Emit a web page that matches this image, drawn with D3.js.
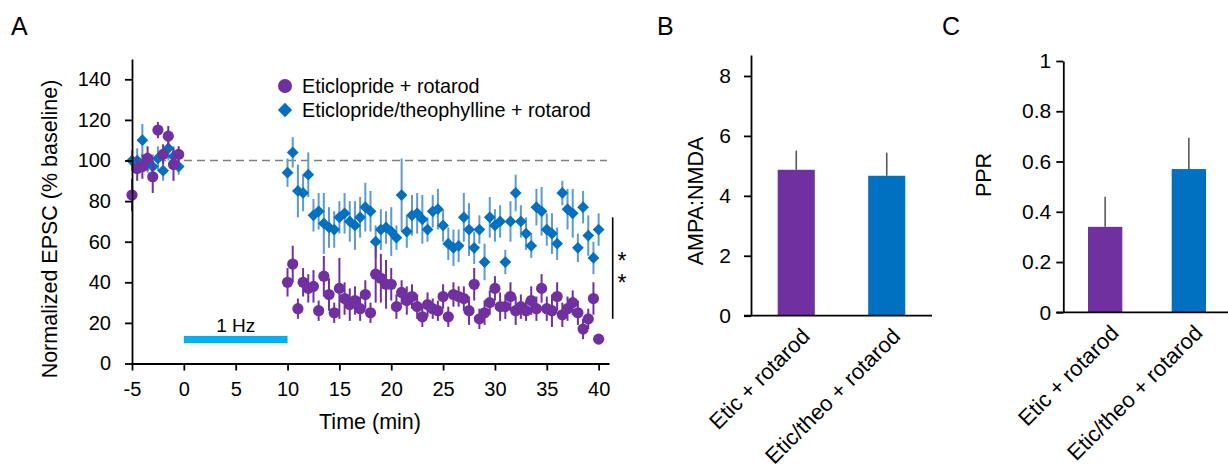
<!DOCTYPE html>
<html>
<head>
<meta charset="utf-8">
<script src="https://cdn.jsdelivr.net/npm/d3@7"></script>
<style>
  body { margin: 0; background: #fff; }
  svg { display: block; }
  text { font-family: "Liberation Sans", Arial, Helvetica, sans-serif; fill: #000; }
</style>
</head>
<body>
<svg id="fig" width="1228" height="470"></svg>
<script>
// ---- Panel A: normalized EPSC time course ----
const minutes = [-5, -4.5, -4, -3.5, -3, -2.5, -2, -1.5, -1, -0.5,
  10, 10.5, 11, 11.5, 12, 12.5, 13, 13.5, 14, 14.5, 15, 15.5, 16, 16.5, 17, 17.5,
  18, 18.5, 19, 19.5, 20, 20.5, 21, 21.5, 22, 22.5, 23, 23.5, 24, 24.5, 25, 25.5,
  26, 26.5, 27, 27.5, 28, 28.5, 29, 29.5, 30, 30.5, 31, 31.5, 32, 32.5, 33, 33.5,
  34, 34.5, 35, 35.5, 36, 36.5, 37, 37.5, 38, 38.5, 39, 39.5, 40];

const eticMean = [83, 96, 97, 101, 92, 115, 103, 112, 98, 103,
  40, 49, 27, 40, 37, 38, 26, 43, 34, 25,
  37, 32, 29, 31, 27, 34, 25, 44, 42, 39,
  39, 28, 35, 31, 33, 28, 23, 29, 27, 26,
  33, 23, 34, 33, 32, 26, 39, 22, 25, 30,
  37, 28, 28, 33, 26, 28, 26, 31, 27, 37,
  27, 26, 33, 24, 27, 30, 25, 17, 22, 32,
  12];
const eticSem = [8, 6, 6, 6, 8, 4, 5, 5, 8, 4,
  7, 9, 5, 7, 7, 8, 5, 10, 8, 5,
  15, 8, 8, 7, 6, 7, 5, 14, 12, 12,
  8, 6, 6, 7, 6, 6, 5, 6, 5, 5,
  6, 5, 6, 5, 6, 7, 8, 5, 6, 6,
  6, 7, 6, 7, 7, 6, 5, 7, 6, 7,
  6, 8, 7, 6, 6, 6, 6, 5, 5, 8,
  2];

const theoMean = [100, 100, 110, 99, 97, 101, 95, 106, 102, 97,
  94, 104, 85, 84, 93, 73, 75, 69, 67, 66,
  72, 74, 70, 68, 72, 77, 75, 60, 66, 67,
  65, 62, 83, 65, 73, 74, 71, 66, 75, 76,
  68, 59, 57, 58, 72, 66, 57, 66, 50, 72,
  68, 70, 50, 70, 84, 70, 64, 58, 77, 75,
  66, 64, 59, 84, 76, 74, 57, 77, 63, 52,
  66];
const theoSem = [5, 6, 8, 5, 6, 6, 5, 6, 5, 4,
  7, 7.5, 13, 9, 11, 8, 9, 15, 10, 9,
  8, 10, 10, 12, 10, 12, 10, 8, 10, 8,
  12, 6, 18, 8, 10, 10, 12, 6, 8, 10,
  8, 8, 9, 8, 12, 13, 8, 7, 9, 10,
  8, 8, 6, 10, 9, 8, 8, 6, 9, 12,
  8, 10, 8, 6, 10, 12, 7, 8, 10, 8,
  8];

const timeTicks = [-5, 0, 5, 10, 15, 20, 25, 30, 35, 40];
const epscTicks = [0, 20, 40, 60, 80, 100, 120, 140];
const seriesNames = ["Eticlopride + rotarod", "Eticlopride/theophylline + rotarod"];
const stimWindow = [0, 10];
const stimLabel = "1 Hz";
const sigRange = [22, 72];
const sigMark = "**";

// ---- Panels B and C: bar summaries ----
const groups = ["Etic + rotarod", "Etic/theo + rotarod"];
const ampaNmda = [4.87, 4.67];
const ampaNmdaSem = [0.64, 0.77];
const ampaTicks = [0, 2, 4, 6, 8];
const ppr = [0.34, 0.57];
const pprSem = [0.12, 0.125];
const pprTicks = [0, 0.2, 0.4, 0.6, 0.8, 1];

const PURPLE = "#7030a0";
const BLUE = "#0070c0";
const BLUE_ERR = "#5b9bd5";
const CYAN = "#00b0f0";

const svg = d3.select("#fig");
svg.append("rect").attr("width", 1228).attr("height", 470).attr("fill", "#fff");

// plain hyphen for negatives
const plainFmt = d => String(d);

function styleAxis(g, fontSize) {
  g.selectAll("path, line").attr("stroke", "#000").attr("stroke-width", 1.8);
  g.selectAll("text").attr("font-size", fontSize).attr("fill", "#000")
    .attr("font-family", '"Liberation Sans", Arial, sans-serif');
}

// Panel letters
[["A", 11], ["B", 657], ["C", 942]].forEach(([t, x]) => {
  svg.append("text").attr("x", x).attr("y", 35).attr("font-size", 25).text(t);
});

// ===== Panel A =====
const xA = d3.scaleLinear().domain([-5, 41]).range([132, 609]);
const yA = d3.scaleLinear().domain([0, 150]).range([363.5, 59]);
const gA = svg.append("g");

// 100% reference line
gA.append("line")
  .attr("x1", xA(-5)).attr("x2", xA(40.8))
  .attr("y1", yA(100)).attr("y2", yA(100))
  .attr("stroke", "#808080").attr("stroke-width", 1.6)
  .attr("stroke-dasharray", "8,5");

// stimulation bar
gA.append("rect")
  .attr("x", xA(stimWindow[0])).attr("width", xA(stimWindow[1]) - xA(stimWindow[0]))
  .attr("y", yA(13.6)).attr("height", yA(10) - yA(13.6))
  .attr("fill", CYAN);
gA.append("text")
  .attr("x", (xA(stimWindow[0]) + xA(stimWindow[1])) / 2).attr("y", 332)
  .attr("text-anchor", "middle").attr("font-size", 19).text(stimLabel);

const theoPts = minutes.map((t, i) => ({ t, m: theoMean[i], e: theoSem[i] }));
const eticPts = minutes.map((t, i) => ({ t, m: eticMean[i], e: eticSem[i] }));

// theophylline series
gA.append("g").selectAll("line").data(theoPts).join("line")
  .attr("x1", d => xA(d.t)).attr("x2", d => xA(d.t))
  .attr("y1", d => yA(d.m - d.e)).attr("y2", d => yA(d.m + d.e))
  .attr("stroke", BLUE_ERR).attr("stroke-width", 2);
const diamond = d3.symbol().type(d3.symbolDiamond2).size(88);
gA.append("g").selectAll("path").data(theoPts).join("path")
  .attr("d", diamond)
  .attr("transform", d => `translate(${xA(d.t)},${yA(d.m)})`)
  .attr("fill", BLUE);

// eticlopride series
gA.append("g").selectAll("line").data(eticPts).join("line")
  .attr("x1", d => xA(d.t)).attr("x2", d => xA(d.t))
  .attr("y1", d => yA(d.m - d.e)).attr("y2", d => yA(d.m + d.e))
  .attr("stroke", PURPLE).attr("stroke-width", 2);
gA.append("g").selectAll("circle").data(eticPts).join("circle")
  .attr("cx", d => xA(d.t)).attr("cy", d => yA(d.m)).attr("r", 5.6)
  .attr("fill", PURPLE);

// axes
const axAx = gA.append("g").attr("transform", `translate(0,${yA(0)})`)
  .call(d3.axisBottom(xA).tickValues(timeTicks).tickFormat(plainFmt)
    .tickSize(7).tickSizeOuter(0).tickPadding(11));
styleAxis(axAx, 20);
const ayAx = gA.append("g").attr("transform", `translate(${xA(-5)},0)`)
  .call(d3.axisLeft(yA).tickValues(epscTicks).tickFormat(plainFmt)
    .tickSize(7).tickSizeOuter(0).tickPadding(14));
styleAxis(ayAx, 20);

gA.append("text").attr("x", 370).attr("y", 429).attr("text-anchor", "middle")
  .attr("font-size", 21.5).text("Time (min)");
gA.append("text").attr("transform", "translate(57,229) rotate(-90)")
  .attr("text-anchor", "middle").attr("font-size", 21.5).text("Normalized EPSC (% baseline)");

// legend
const leg = gA.append("g");
leg.append("circle").attr("cx", 285).attr("cy", 86).attr("r", 7).attr("fill", PURPLE);
leg.append("path").attr("d", d3.symbol().type(d3.symbolDiamond2).size(130))
  .attr("transform", "translate(285,110)").attr("fill", BLUE);
leg.append("text").attr("x", 302).attr("y", 93).attr("font-size", 19.8).text(seriesNames[0]);
leg.append("text").attr("x", 302).attr("y", 117).attr("font-size", 19.8).text(seriesNames[1]);

// significance bracket; asterisks stacked vertically in one text run
gA.append("line").attr("x1", 612.7).attr("x2", 612.7)
  .attr("y1", yA(sigRange[1])).attr("y2", yA(sigRange[0]))
  .attr("stroke", "#000").attr("stroke-width", 1.6);
gA.append("text").attr("x", 622).attr("y", 248)
  .attr("font-size", 23)
  .style("writing-mode", "vertical-rl")
  .style("text-orientation", "upright")
  .style("letter-spacing", "-4px")
  .text(sigMark);

// ===== Bar panels =====
function barPanel(opt) {
  const g = svg.append("g");
  const x = d3.scaleBand().domain(groups).range(opt.xRange).padding(0);
  const y = d3.scaleLinear().domain(opt.yDomain).range(opt.yRange);
  const bw = x.bandwidth() * 0.41;
  const colors = [PURPLE, BLUE];

  g.selectAll("line.err").data(opt.values).join("line").attr("class", "err")
    .attr("x1", (d, i) => x(groups[i]) + x.bandwidth() / 2)
    .attr("x2", (d, i) => x(groups[i]) + x.bandwidth() / 2)
    .attr("y1", d => y(d)).attr("y2", (d, i) => y(d + opt.errs[i]))
    .attr("stroke", "#595959").attr("stroke-width", 1.6);
  g.selectAll("rect.bar").data(opt.values).join("rect").attr("class", "bar")
    .attr("x", (d, i) => x(groups[i]) + x.bandwidth() / 2 - bw / 2)
    .attr("width", bw)
    .attr("y", d => y(d)).attr("height", d => y(0) - y(d))
    .attr("fill", (d, i) => colors[i]);

  // x axis line (no ticks)
  g.append("line").attr("x1", opt.xRange[0] - 7).attr("x2", opt.xLineEnd)
    .attr("y1", y(0)).attr("y2", y(0)).attr("stroke", "#000").attr("stroke-width", 1.8);
  const ay = g.append("g").attr("transform", `translate(${opt.xRange[0]},0)`)
    .call(d3.axisLeft(y).tickValues(opt.ticks).tickSize(7).tickSizeOuter(0)
      .tickPadding(opt.tickPad).tickFormat(plainFmt));
  styleAxis(ay, 21);

  g.selectAll("text.cat").data(groups).join("text").attr("class", "cat")
    .attr("transform", d => `translate(${x(d) + x.bandwidth() / 2 + 15},${y(0) + 22}) rotate(-45)`)
    .attr("text-anchor", "end").attr("font-size", 22).text(d => d);

  g.append("text").attr("transform", `translate(${opt.titleX},${opt.titleY}) rotate(-90)`)
    .attr("text-anchor", "middle").attr("font-size", 21.5).text(opt.title);
}

barPanel({
  xRange: [751, 932], xLineEnd: 932,
  yDomain: [0, 8.7], yRange: [315.7, 55],
  values: ampaNmda, errs: ampaNmdaSem, ticks: ampaTicks, tickPad: 13,
  title: "AMPA:NMDA", titleX: 703, titleY: 201
});
barPanel({
  xRange: [1063.3, 1230.7], xLineEnd: 1228,
  yDomain: [0, 1], yRange: [312.3, 61],
  values: ppr, errs: pprSem, ticks: pprTicks, tickPad: 5,
  title: "PPR", titleX: 991, titleY: 175
});
</script>
</body>
</html>
